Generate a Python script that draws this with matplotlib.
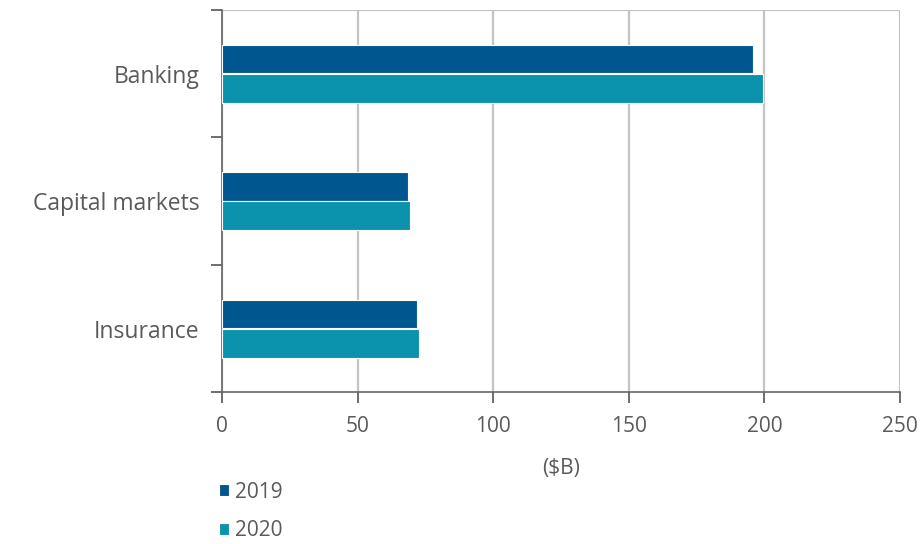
import matplotlib.pyplot as plt
import numpy as np

# data
categories = ['Banking', 'Capital markets', 'Insurance']
values_2019 = [196, 68.5, 72]
values_2020 = [199.5, 69.5, 72.5]
years = ['2019', '2020']

c2019 = '#00578f'
c2020 = '#0b93ae'
text_color = '#5a5a5a'

plt.rcParams['font.family'] = ['Open Sans', 'DejaVu Sans']

fig = plt.figure(figsize=(9.23, 5.44), dpi=100)
ax = fig.add_axes([0.2405, 0.279, 0.7345, 0.7026])

y = np.arange(len(categories))
h = 0.225
ax.barh(y - 0.115, values_2019, height=h, color=c2019, edgecolor='white', linewidth=0.8, label=years[0], zorder=3)
ax.barh(y + 0.115, values_2020, height=h, color=c2020, edgecolor='white', linewidth=0.8, label=years[1], zorder=3)

ax.set_xlim(0, 250)
ax.set_ylim(2.5, -0.5)
ax.set_xticks(np.arange(0, 251, 50))
ax.set_yticks(y)
ax.set_yticklabels(categories)
ax.set_yticks([-0.5, 0.5, 1.5, 2.5], minor=True)

ax.grid(axis='x', color='#c4c4c4', linewidth=1.6, zorder=0)
ax.tick_params(axis='y', which='major', length=0, pad=16, labelsize=16.5, labelcolor=text_color)
ax.tick_params(axis='y', which='minor', length=8, width=1.2, color='#555555')
ax.tick_params(axis='x', length=8, width=1.2, color='#555555', pad=9, labelsize=15, labelcolor=text_color)

for s in ['top', 'right']:
    ax.spines[s].set_visible(False)
ax.spines['left'].set_color('#666666')
ax.spines['bottom'].set_color('#666666')
ax.spines['left'].set_linewidth(1.2)
ax.spines['bottom'].set_linewidth(1.2)
ax.axhline(-0.5, color='#c4c4c4', linewidth=1.6, zorder=0)

ax.set_xlabel('($B)', fontsize=15, color=text_color, labelpad=15)

fig.legend(loc='upper left', bbox_to_anchor=(0.228, 0.13), frameon=False,
           fontsize=15, labelcolor=text_color, handlelength=0.5, handleheight=0.5,
           handletextpad=0.3, labelspacing=0.85, borderaxespad=0)

fig.savefig('out.png', dpi=100)
